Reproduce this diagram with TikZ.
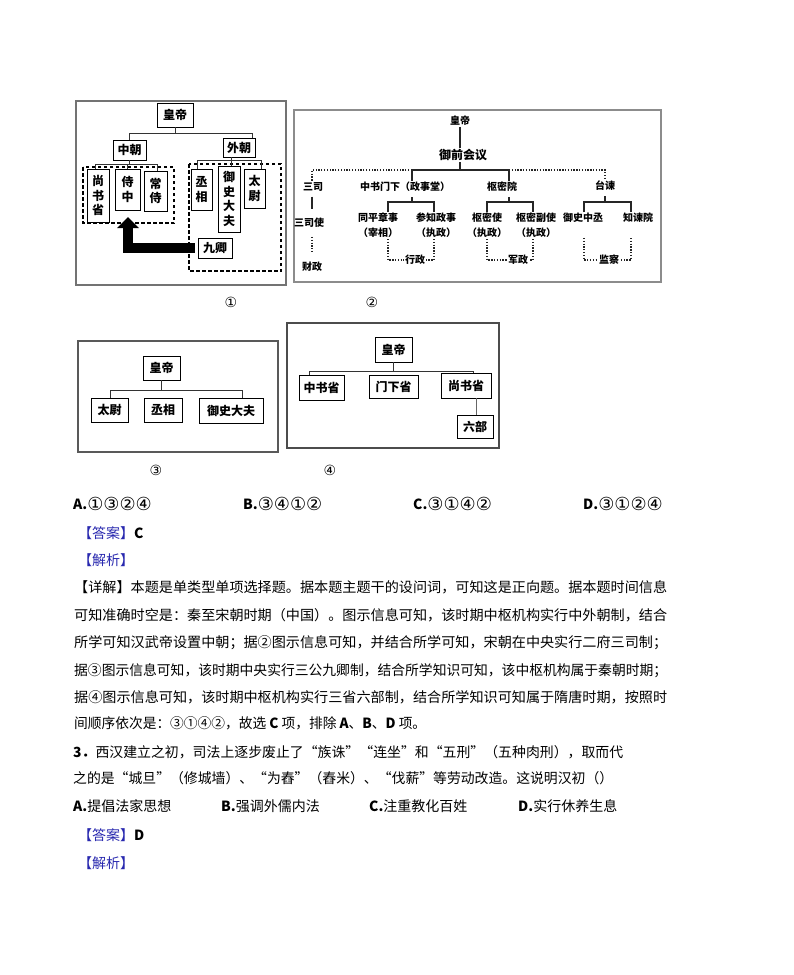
\documentclass[tikz,border=0pt]{standalone}
\usepackage{fontspec}
\usepackage{graphicx}
\setmainfont{Noto Sans CJK SC}
\newfontfamily\dvs{DejaVu Sans}
\usetikzlibrary{arrows.meta,calc}
\definecolor{ansblue}{RGB}{40,40,175}
\newcommand\fitw[2]{\resizebox{#1}{\height}{#2}}
\newcommand\fs[1]{\fontsize{#1}{#1}\selectfont}
\newcommand\circs[1]{{\dvs\fs{18}\raisebox{-1.5pt}{#1}}}
\begin{document}
\begin{tikzpicture}[x=1pt,y=-1pt,
  frame/.style={draw=#1, line width=1.4pt},
  bx/.style={draw=black, line width=0.9pt, fill=white, inner sep=0pt, align=center, font=\fontsize{12}{14.5}\selectfont\bfseries},
  tl/.style={draw=black!80, line width=0.9pt},
  dbox/.style={draw=black, line width=1.1pt, dash pattern=on 3.5pt off 2.5pt},
  lb/.style={inner sep=1pt, align=center, font=\fontsize{10}{15}\selectfont\bfseries},
  dt/.style={draw=black!85, line width=1.2pt, dash pattern=on 1.3pt off 1.5pt},
  sl/.style={draw=black!85, line width=1.3pt},
  txt/.style={anchor=base west, inner sep=0pt, font=\fs{14}},
  num/.style={inner sep=0pt, font=\dvs\fs{14}},
]
\useasboundingbox[fill=white] (0,0) rectangle (793,975);

% ---------------- Diagram 1 ----------------
\draw[frame=black!55] (76,101) rectangle (286,285);
\draw[dbox] (83,167) rectangle (174,223);
\draw[dbox] (189,164) rectangle (281,271);
\node[bx,minimum width=36pt,minimum height=24pt] (d1hd) at (175,115) {皇帝};
\node[bx,minimum width=33pt,minimum height=20pt] (d1zc) at (129.5,150) {中朝};
\node[bx,minimum width=32pt,minimum height=19pt] (d1wc) at (239,147.5) {外朝};
\node[bx,minimum width=22pt,minimum height=53pt] (d1ss) at (98,195.5) {尚\\书\\省};
\node[bx,minimum width=25pt,minimum height=41pt] (d1sz) at (127.5,189.5) {侍\\中};
\node[bx,minimum width=23pt,minimum height=40pt] (d1cs) at (155.5,191) {常\\侍};
\node[bx,minimum width=21pt,minimum height=41pt] (d1cx) at (201.5,189.5) {丞\\相};
\node[bx,minimum width=22pt,minimum height=66pt] (d1yd) at (229,199) {御\\史\\大\\夫};
\node[bx,minimum width=21pt,minimum height=39pt] (d1tw) at (254.5,188.5) {太\\尉};
\node[bx,minimum width=34pt,minimum height=20pt] (d1jq) at (215,248) {九卿};
\coordinate (d1r1) at (129.5,133);
\coordinate (d1r2) at (252,133);
\draw[tl] (d1hd.south) -- (d1hd.south |- d1r1);
\draw[tl] (d1zc.north) -- (d1r1) -- (d1r2) -- (d1r2 |- d1wc.north);
\coordinate (d1r3) at (95,164);
\coordinate (d1r4) at (157,164);
\draw[tl] (d1zc.south) -- (d1zc.south |- d1r3);
\draw[tl] (d1r3 |- d1ss.north) -- (d1r3) -- (d1r4) -- (d1r4 |- d1cs.north);
\draw[tl] (d1sz.north) -- (d1sz.north |- d1r3);
\coordinate (d1r5) at (197,160);
\coordinate (d1r6) at (261,160);
\coordinate (d1r7) at (231,160);
\draw[tl] (d1r7 |- d1wc.south) -- (d1r7 |- d1yd.north);
\draw[tl] (d1r5 |- d1cx.north) -- (d1r5) -- (d1r6) -- (d1r6 |- d1tw.north);
\coordinate (d1tip) at (128,217);
\draw[line width=10pt, line join=miter, -{Triangle[width=21pt,length=11pt]}] ([xshift=-3pt]d1jq.west) -| (d1tip);

% ---------------- Diagram 2 ----------------
\draw[frame=black!45] (294,110) rectangle (661,282);
\node[lb] (n2hd) at (460,121) {皇帝};
\node[lb, font=\fs{12}\bfseries] (n2yq) at (463,155) {御前会议};
\node[lb] (n2sc) at (313,187) {三司};
\node[lb] (n2scs) at (309,223) {三司使};
\node[lb] (n2cz) at (312,267) {财政};
\node[lb] (n2zs) at (405,187) {中书门下（政事堂）};
\node[lb] (n2tp) at (378,225.5) {同平章事\\（宰相）};
\node[lb] (n2cz2) at (436,225.5) {参知政事\\（执政）};
\node[lb] (n2xz) at (415,260) {行政};
\node[lb] (n2sm) at (502,187) {枢密院};
\node[lb] (n2sms) at (487,225.5) {枢密使\\（执政）};
\node[lb] (n2smf) at (536,225.5) {枢密副使\\（执政）};
\node[lb] (n2jz) at (518,260) {军政};
\node[lb] (n2tj) at (605,186) {台谏};
\node[lb] (n2yz) at (583,218) {御史中丞};
\node[lb] (n2zj) at (638,218) {知谏院};
\node[lb] (n2jc) at (609,260) {监察};
\coordinate (c2l) at (312,170);
\coordinate (c2a) at (412,170);
\coordinate (c2b) at (509,170);
\coordinate (c2r) at (605,170);
\draw[sl] (n2hd.south) -- (n2hd.south |- n2yq.north);
\draw[sl] (n2hd.south |- n2yq.south) -- (n2hd.south |- c2a);
\draw[sl] (c2a |- n2zs.north) -- (c2a) -- (c2b) -- (c2b |- n2sm.north);
\draw[dt] (c2a) -- (c2l) -- (c2l |- n2sc.north);
\draw[dt] (c2b) -- (c2r) -- (c2r |- n2tj.north);
\draw[sl, shorten <=4pt, shorten >=8pt] (c2l |- n2sc.south) -- (c2l |- n2scs.north);
\draw[dt, shorten <=8pt, shorten >=8pt] (c2l |- n2scs.south) -- (c2l |- n2cz.north);
% brackets
\coordinate (c2z) at (412,202);
\coordinate (c2z1) at (388,202);
\coordinate (c2z2) at (434,202);
\draw[sl, shorten <=4pt] (c2z |- n2zs.south) -- (c2z);
\draw[sl] (c2z1 |- n2tp.north) -- (c2z1) -- (c2z2) -- (c2z2 |- n2cz2.north);
\draw[dt] (c2z1 |- n2tp.south) -- (c2z1 |- n2xz.west) -- (n2xz.west);
\draw[dt] (c2z2 |- n2cz2.south) -- (c2z2 |- n2xz.east) -- (n2xz.east);
\coordinate (c2s) at (509,202);
\coordinate (c2s1) at (487,202);
\coordinate (c2s2) at (533,202);
\draw[sl, shorten <=4pt] (c2s |- n2sm.south) -- (c2s);
\draw[sl] (c2s1 |- n2sms.north) -- (c2s1) -- (c2s2) -- (c2s2 |- n2smf.north);
\draw[dt] (c2s1 |- n2sms.south) -- (c2s1 |- n2jz.west) -- (n2jz.west);
\draw[dt] (c2s2 |- n2smf.south) -- (c2s2 |- n2jz.east) -- (n2jz.east);
\coordinate (c2t) at (605,202);
\coordinate (c2t1) at (584,202);
\coordinate (c2t2) at (631,202);
\draw[sl, shorten <=4pt] (c2t |- n2tj.south) -- (c2t);
\draw[sl] (c2t1 |- n2yz.north) -- (c2t1) -- (c2t2) -- (c2t2 |- n2zj.north);
\draw[dt, shorten <=14pt] (c2t1 |- n2yz.south) -- (c2t1 |- n2jc.west) -- (n2jc.west);
\draw[dt, shorten <=14pt] (c2t2 |- n2zj.south) -- (c2t2 |- n2jc.east) -- (n2jc.east);

\node[num] (l1) at (231,302) {①};
\node[num] (l2) at (372,302) {②};

% ---------------- Diagram 3 ----------------
\draw[frame=black!65] (78,341) rectangle (278,452);
\node[bx,minimum width=37pt,minimum height=24pt] (d3hd) at (161.5,368) {皇帝};
\node[bx,minimum width=37pt,minimum height=24pt] (d3tw) at (109.5,410) {太尉};
\node[bx,minimum width=38pt,minimum height=24pt] (d3cx) at (163,410) {丞相};
\node[bx,minimum width=64pt,minimum height=25pt] (d3yd) at (231,410.5) {御史大夫};
\coordinate (d3a) at (110,390);
\coordinate (d3b) at (242,390);
\draw[tl] (d3hd.south) -- (d3hd.south |- d3a);
\draw[tl] (d3a |- d3tw.north) -- (d3a) -- (d3b) -- (d3b |- d3yd.north);

% ---------------- Diagram 4 ----------------
\draw[frame=black!70] (287,323) rectangle (499,448);
\node[bx,minimum width=37pt,minimum height=25pt] (d4hd) at (393.5,349.5) {皇帝};
\node[bx,minimum width=45pt,minimum height=25pt] (d4zs) at (321.5,387.5) {中书省};
\node[bx,minimum width=49pt,minimum height=23pt] (d4mx) at (393.5,386.5) {门下省};
\node[bx,minimum width=50pt,minimum height=25pt] (d4ss) at (466,385.5) {尚书省};
\node[bx,minimum width=36pt,minimum height=23pt] (d4lb) at (475,426.5) {六部};
\coordinate (d4a) at (309,371);
\coordinate (d4b) at (473,371);
\draw[tl, line width=1.6pt] (d4hd.south) -- (d4hd.south |- d4a);
\draw[tl] (d4a |- d4zs.north) -- (d4a) -- (d4b) -- (d4b |- d4ss.north);
\draw[draw=black!60, line width=0.8pt] (d4lb.north -| 476,0) -- (d4ss.south -| 476,0);

\node[num] (l3) at (156,470) {③};
\node[num] (l4) at (330,470) {④};

% ---------------- Text ----------------
\node[txt] (oA) at (73,509.3) {\textbf{A.}\circs{①③②④}};
\node[txt] (oB) at (243,509.3) {\textbf{B.}\circs{③④①②}};
\node[txt] (oC) at (413,509.3) {\textbf{C.}\circs{③①④②}};
\node[txt] (oD) at (583,509.3) {\textbf{D.}\circs{③①②④}};
\node[txt] (ans1) at (78,538.3) {{\color{ansblue}【答案】}\textbf{C}};
\node[txt] (jx1) at (78,565.3) {\color{ansblue}【解析】};
\node[txt] (p1) at (74,592.3) {\fitw{593pt}{【详解】本题是单类型单项选择题。据本题主题干的设问词，可知这是正向题。据本题时间信息}};
\node[txt] (p2) at (74,620.3) {\fitw{593pt}{可知准确时空是：秦至宋朝时期（中国）。图示信息可知，该时期中枢机构实行中外朝制，结合}};
\node[txt] (p3) at (74,647.3) {\fitw{593pt}{所学可知汉武帝设置中朝；据②图示信息可知，并结合所学可知，宋朝在中央实行二府三司制；}};
\node[txt] (p4) at (74,675.3) {\fitw{593pt}{据③图示信息可知，该时期中央实行三公九卿制，结合所学知识可知，该中枢机构属于秦朝时期；}};
\node[txt] (p5) at (74,702.3) {\fitw{593pt}{据④图示信息可知，该时期中枢机构实行三省六部制，结合所学知识可知属于隋唐时期，按照时}};
\node[txt] (p6) at (74,728.3) {\fitw{352pt}{间顺序依次是：③①④②，故选 \textbf{C} 项，排除 \textbf{A}、\textbf{B}、\textbf{D} 项。}};
\node[txt] (q1) at (73,757.3) {\fitw{550pt}{\textbf{3．}西汉建立之初，司法上逐步废止了“族诛”“连坐”和“五刑”（五种肉刑），取而代}};
\node[txt] (q2) at (73,783.3) {\fitw{540pt}{之的是“城旦”（修城墙）、“为舂”（舂米）、“伐薪”等劳动改造。这说明汉初（）}};
\node[txt] (qA) at (73,811.3) {\textbf{A.}提倡法家思想};
\node[txt] (qB) at (221,811.3) {\textbf{B.}强调外儒内法};
\node[txt] (qC) at (369,811.3) {\textbf{C.}注重教化百姓};
\node[txt] (qD) at (518,811.3) {\textbf{D.}实行休养生息};
\node[txt] (ans2) at (78,840.3) {{\color{ansblue}【答案】}\textbf{D}};
\node[txt] (jx2) at (78,868.3) {\color{ansblue}【解析】};
\end{tikzpicture}
\end{document}
